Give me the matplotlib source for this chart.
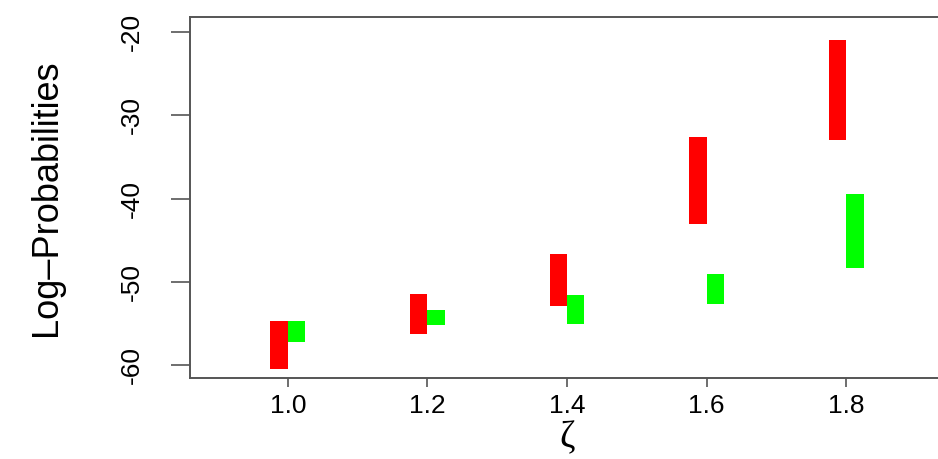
import numpy as np
import matplotlib
matplotlib.use("Agg")
import matplotlib.pyplot as plt

plt.rcParams['font.family'] = ['Liberation Sans', 'DejaVu Sans']

# log-probability ranges for each zeta
zeta = np.array([1.0, 1.2, 1.4, 1.6, 1.8])
red_lo = np.array([-60.4, -56.3, -52.9, -43.0, -33.0])
red_hi = np.array([-54.7, -51.4, -46.6, -32.6, -21.0])
green_lo = np.array([-57.2, -55.2, -55.0, -52.7, -48.3])
green_hi = np.array([-54.7, -53.4, -51.6, -49.1, -39.5])

yticks = [-60, -50, -40, -30, -20]

fig = plt.figure(figsize=(9.38, 4.59), dpi=100)
ax = fig.add_axes([0.2026, 0.1771, 0.8038, 0.7859])

w = 0.025
ax.bar(zeta - w/2, red_hi - red_lo, bottom=red_lo, width=w, color='#FF0000', linewidth=0)
ax.bar(zeta + w/2, green_hi - green_lo, bottom=green_lo, width=w, color='#00FF00', linewidth=0)

ax.set_xlim(0.86, 1.94)
ax.set_ylim(-61.5, -18.2)

ax.set_xticks(zeta)
ax.set_xticklabels(['%.1f' % z for z in zeta])
ax.set_yticks(yticks)
ax.set_yticklabels([str(v) for v in yticks], rotation=90, va='center')

for s in ax.spines.values():
    s.set_color('#555555')
    s.set_linewidth(1.4)

ax.tick_params(axis='x', length=6.5, width=1.2, color='#555555', labelsize=19, pad=5)
ax.tick_params(axis='y', length=14, width=1.2, color='#555555', labelsize=19, pad=19)

ax.set_xlabel('\u03b6', fontsize=27, family=['Liberation Serif', 'DejaVu Serif'], labelpad=2)
ax.set_ylabel('Log\u2013Probabilities', fontsize=26)
ax.yaxis.set_label_coords(-0.19, 0.5)
ax.yaxis.label.set_va('center')

fig.savefig('out.png', dpi=100)
